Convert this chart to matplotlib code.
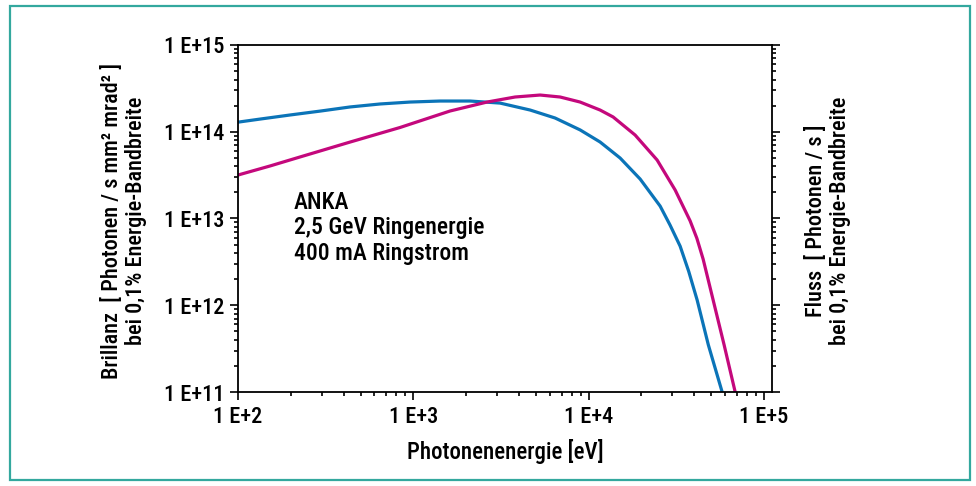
import matplotlib
matplotlib.use("Agg")
import matplotlib.pyplot as plt
from matplotlib.patches import Rectangle

plt.rcParams['font.family'] = ['Roboto Condensed', 'DejaVu Sans']
plt.rcParams['font.weight'] = 'medium'
plt.rcParams['axes.labelweight'] = 'medium'

# Brillanz (blau): Photonenenergie [eV] / Wert
brill_e = [100, 133.6, 198, 294, 435, 646, 958, 1420, 2106, 3123, 4632,
           6432, 8932, 11610, 15105, 19650, 25550, 29100, 33220, 37200,
           41530, 48100, 57680]
brill_v = [1.29e14, 1.40e14, 1.56e14, 1.73e14, 1.93e14, 2.09e14, 2.20e14,
           2.26e14, 2.26e14, 2.14e14, 1.78e14, 1.44e14, 1.05e14, 7.62e13,
           4.98e13, 2.85e13, 1.39e13, 8.4e12, 4.8e12, 2.45e12, 1.15e12,
           3.5e11, 1.0e11]

# Fluss (magenta)
fluss_e = [100, 152.2, 225.8, 435, 840, 1620, 2633, 3804, 5283, 6869, 8932,
           11610, 13780, 18390, 24560, 31120, 37870, 41400, 44940, 51240,
           59210, 68440]
fluss_v = [3.17e13, 4.03e13, 5.12e13, 7.6e13, 1.12e14, 1.735e14, 2.20e14,
           2.515e14, 2.65e14, 2.515e14, 2.20e14, 1.78e14, 1.48e14, 9.17e13,
           4.72e13, 2.13e13, 9.4e12, 5.9e12, 3.4e12, 1.15e12, 3.48e11, 1.0e11]

x_ticks = [1e2, 1e3, 1e4, 1e5]
x_labels = ['1 E+2', '1 E+3', '1 E+4', '1 E+5']
y_ticks = [1e11, 1e12, 1e13, 1e14, 1e15]
y_labels = ['1 E+11', '1 E+12', '1 E+13', '1 E+14', '1 E+15']

fig = plt.figure(figsize=(9.76, 4.86), dpi=100)
fig.patches.append(Rectangle((10 / 976, 6 / 486), 960 / 976, 474 / 486,
                             transform=fig.transFigure, fill=False,
                             edgecolor='#33a89e', linewidth=1.6))

ax = fig.add_axes([238 / 976, 1 - 392 / 486, 534 / 976, 347 / 486])
ax.plot(brill_e, brill_v, color='#0b74b8', lw=2.3)
ax.plot(fluss_e, fluss_v, color='#c4087c', lw=2.3)

ax.set_xscale('log')
ax.set_yscale('log')
ax.set_xlim(1e2, 1.11e5)
ax.set_ylim(1e11, 1e15)
ax.set_xticks(x_ticks, x_labels)
ax.set_yticks(y_ticks, y_labels)

for s in ax.spines.values():
    s.set_linewidth(1.3)
ax.tick_params(which='both', top=False, right=True, labelright=False,
               direction='out', width=1.2, labelsize=16)
ax.tick_params(which='major', length=6, pad=4)
ax.tick_params(which='minor', length=3)

ax.set_xlabel('Photonenenergie [eV]', fontsize=16.5, labelpad=8)

ax.text(0.105, 0.58, 'ANKA\n2,5 GeV Ringenergie\n400 mA Ringstrom',
        transform=ax.transAxes, fontsize=17, va='top', ha='left',
        linespacing=1.15)

fig.text(124 / 976, 0.545,
         'Brillanz  [ Photonen / s mm² mrad² ]\nbei 0,1% Energie-Bandbreite',
         rotation=90, ha='center', va='center', fontsize=16,
         multialignment='center', linespacing=1.12)
fig.text(828 / 976, 0.545,
         'Fluss  [ Photonen / s ]\nbei 0,1% Energie-Bandbreite',
         rotation=90, ha='center', va='center', fontsize=16,
         multialignment='center', linespacing=1.12)

fig.savefig('out.png', dpi=100)
